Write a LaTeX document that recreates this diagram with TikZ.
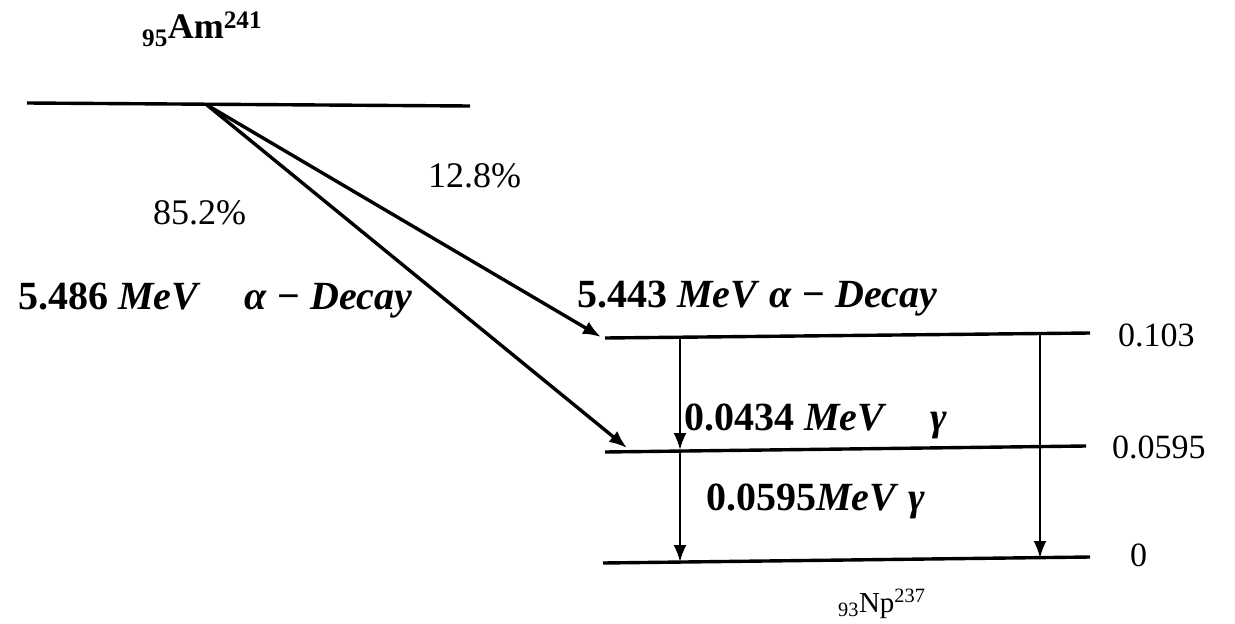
\documentclass[tikz,border=0pt]{standalone}
\usepackage{fontspec}
\setmainfont{Liberation Serif}
\usetikzlibrary{arrows.meta}
\newcommand\mathlblfont{\fontsize{40}{46}\selectfont\bfseries}
\newcommand\numlblfont{\fontsize{34}{40}\selectfont}
\begin{document}
\begin{tikzpicture}[x=1pt,y=-1pt,
  lvl/.style={line width=3.4pt},
  alph/.style={line width=3.4pt,-{Latex[length=18pt,width=14pt]}},
  gam/.style={line width=2.4pt,-{Latex[length=17pt,width=13pt]}},
  txt/.style={inner sep=0pt,anchor=base west},
  mtxt/.style={txt,font=\mathlblfont},
  ntxt/.style={txt,font=\numlblfont}]
\useasboundingbox (0,0) rectangle (1235,624);
% level end points
\coordinate (am1) at (27,103);
\coordinate (am2) at (470,106);
\coordinate (src) at (207,105);
\coordinate (h1) at (605,338);
\coordinate (h2) at (1090,333);
\coordinate (m1) at (605,452);
\coordinate (m2) at (1086,446);
\coordinate (g1) at (603,563);
\coordinate (g2) at (1090,557);
\coordinate (tipA) at (601,337);
\coordinate (tipB) at (627,448);
\coordinate (la) at (680,337);
\coordinate (lb) at (680,450);
\coordinate (lc) at (680,451);
\coordinate (ld) at (680,562);
\coordinate (ra) at (1040,334);
\coordinate (rb) at (1040,558);
% levels
\draw[lvl] (am1) -- (am2);
\draw[lvl] (h1) -- (h2);
\draw[lvl] (m1) -- (m2);
\draw[lvl] (g1) -- (g2);
% alpha transitions
\draw[alph] (src) -- (tipA);
\draw[alph] (src) -- (tipB);
% gamma transitions
\draw[gam] (la) -- (lb);
\draw[gam] (lc) -- (ld);
\draw[gam] (ra) -- (rb);
% labels
\node[txt,font=\fontsize{36}{40}\selectfont\bfseries] (am) at (142,38) {\textsubscript{95}Am\textsuperscript{241}};
\node[txt,font=\fontsize{29}{34}\selectfont] (np) at (838,612) {\textsubscript{93}Np\textsuperscript{237}};
\node[ntxt,font=\fontsize{36}{40}\selectfont] (p128) at (428,187) {12.8\%};
\node[ntxt,font=\fontsize{36}{40}\selectfont] (p852) at (153,224) {85.2\%};
\node[mtxt] (e1) at (18,309) {5.486 \textit{MeV}\hspace{1.1em}\textit{α} − \textit{Decay}};
\node[mtxt] (e2) at (577,307) {5.443 \textit{MeV} \textit{α} − \textit{Decay}};
\node[mtxt] (e3) at (684,430) {0.0434 \textit{MeV}\hspace{1.1em}\textit{γ}};
\node[mtxt] (e4) at (706,510) {0.0595\textit{MeV} \textit{γ}};
\node[ntxt] (l1) at (1118,346) {0.103};
\node[ntxt] (l2) at (1112,458) {0.0595};
\node[ntxt] (l3) at (1130,566) {0};
\end{tikzpicture}
\end{document}
